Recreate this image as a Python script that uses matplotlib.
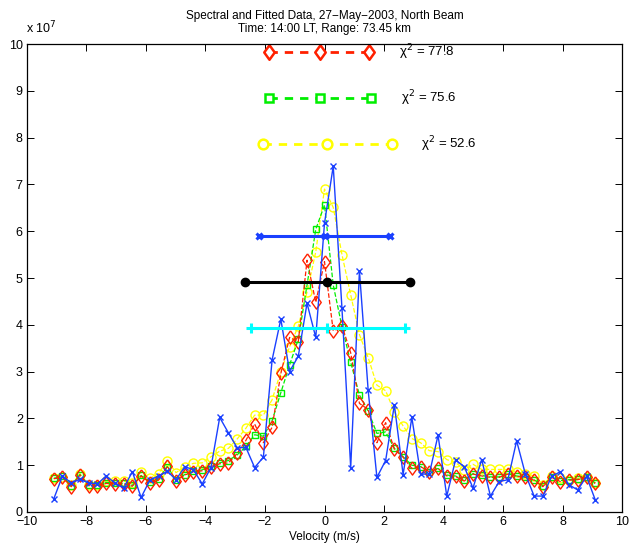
import numpy as np
import matplotlib
matplotlib.use("Agg")
import matplotlib.pyplot as plt

plt.rcParams['font.family'] = ['Liberation Sans', 'DejaVu Sans']

# velocity grid (m/s), 63 bins
velocity = np.linspace(-9.1, 9.1, 63)

# spectral power, units of 1e7
spectrum = [0.28, 0.77, 0.62, 0.70, 0.62, 0.60, 0.77, 0.62, 0.51, 0.86,
            0.31, 0.68, 0.77, 0.87, 0.69, 0.97, 0.90, 0.60, 0.95, 2.02,
            1.69, 1.37, 1.38, 0.95, 1.17, 3.25, 4.12, 3.00, 3.33, 4.46,
            3.73, 6.17, 7.39, 4.35, 0.95, 5.15, 2.60, 0.74, 1.10, 2.29,
            0.80, 2.02, 0.81, 0.81, 1.64, 0.34, 1.11, 0.97, 0.51, 1.12,
            0.34, 0.65, 0.69, 1.52, 0.81, 0.34, 0.34, 0.76, 0.86, 0.58,
            0.47, 0.76, 0.26]

fit_red = [0.71, 0.74, 0.54, 0.79, 0.56, 0.55, 0.61, 0.60, 0.60, 0.55,
           0.77, 0.63, 0.68, 0.98, 0.67, 0.79, 0.86, 0.88, 0.97, 1.03,
           1.05, 1.25, 1.53, 1.88, 1.48, 1.81, 2.96, 3.73, 3.64, 5.38,
           4.48, 5.35, 3.87, 3.98, 3.40, 2.32, 2.19, 1.48, 1.91, 1.34,
           1.17, 0.93, 0.97, 0.86, 0.93, 0.77, 0.76, 0.66, 0.81, 0.77,
           0.74, 0.74, 0.81, 0.76, 0.74, 0.68, 0.54, 0.74, 0.65, 0.68,
           0.69, 0.74, 0.61]

fit_green = [0.72, 0.76, 0.56, 0.80, 0.57, 0.57, 0.63, 0.62, 0.61, 0.57,
             0.78, 0.64, 0.70, 0.97, 0.68, 0.80, 0.87, 0.90, 0.98, 1.05,
             1.10, 1.22, 1.40, 1.65, 1.62, 1.95, 2.55, 3.14, 3.69, 4.85,
             6.04, 6.56, 4.85, 3.96, 3.20, 2.50, 2.16, 1.68, 1.71, 1.36,
             1.18, 1.00, 0.97, 0.86, 0.93, 0.79, 0.77, 0.68, 0.82, 0.78,
             0.75, 0.75, 0.82, 0.77, 0.75, 0.69, 0.56, 0.75, 0.67, 0.69,
             0.70, 0.75, 0.62]

fit_yellow = [0.72, 0.75, 0.57, 0.82, 0.58, 0.58, 0.66, 0.66, 0.66, 0.61,
              0.86, 0.72, 0.82, 1.10, 0.84, 0.97, 1.04, 1.05, 1.18, 1.30,
              1.36, 1.56, 1.79, 2.07, 2.07, 2.40, 3.00, 3.53, 3.97, 4.70,
              5.56, 6.90, 6.51, 5.50, 4.64, 3.79, 3.30, 2.71, 2.59, 2.14,
              1.84, 1.57, 1.48, 1.31, 1.29, 1.12, 1.06, 0.90, 1.02, 0.91,
              0.91, 0.91, 0.91, 0.86, 0.82, 0.77, 0.58, 0.77, 0.72, 0.69,
              0.72, 0.75, 0.62]

# width bars: (left, centre, right, level)
bar_blue = [-2.2, 0.0, 2.2, 5.90]
bar_black = [-2.67, 0.08, 2.87, 4.91]
bar_cyan = [-2.47, 0.10, 2.71, 3.93]

# model key lines: (left, centre, right, level)
key_red = [-1.86, -0.16, 1.50, 9.82]
key_green = [-1.86, -0.16, 1.57, 8.84]
key_yellow = [-2.08, 0.09, 2.26, 7.86]
chi2_labels = ['77.8', '75.6', '52.6']
chi2_x = [2.52, 2.57, 3.24]

RED = '#ff2000'
GREEN = '#00ee00'
YELLOW = '#ffff00'
BLUE = '#1a40ff'

# MATLAB-like (slightly tall) diamond
DIAMOND = [(0, 1), (0.72, 0), (0, -1), (-0.72, 0), (0, 1)]

fig = plt.figure(figsize=(6.29, 5.51), dpi=100)
ax = fig.add_axes([0.0429, 0.0708, 0.946, 0.8493])

ax.plot(velocity, fit_yellow, '--', marker='o', color=YELLOW, mfc='none', ms=6.5, lw=0.9, mew=1.0)
ax.plot(velocity, fit_green, '--', marker='s', color=GREEN, mfc='none', ms=5, lw=0.9, mew=1.0)
ax.plot(velocity, fit_red, '--', marker=DIAMOND, color=RED, mfc='none', ms=9.5, lw=0.9, mew=1.0)
ax.plot(velocity, spectrum, '-x', color=BLUE, ms=5, lw=1.0, mew=1.0)

for b, col, mk, ms, mew in [(bar_blue, BLUE, 'x', 5, 2.2),
                            (bar_black, 'black', 'o', 6, 1.0),
                            (bar_cyan, '#00ffff', '+', 7, 2.2)]:
    ax.plot(b[:3], [b[3]] * 3, '-', marker=mk, color=col, lw=2.2, ms=ms,
            mew=mew, mfc=col)

for k, col, mk, ms, lab, tx in [(key_red, RED, DIAMOND, 10.5, chi2_labels[0], chi2_x[0]),
                                (key_green, GREEN, 's', 6, chi2_labels[1], chi2_x[1]),
                                (key_yellow, YELLOW, 'o', 7, chi2_labels[2], chi2_x[2])]:
    ax.plot(k[:3], [k[3]] * 3, '--', marker=mk, color=col, lw=2.0, ms=ms,
            mew=1.8, mfc='white', dashes=(3, 2.5))
    ax.text(tx, k[3], '\u03c7$^2$ = ' + lab, fontsize=9.5, va='center', ha='left')

ax.set_xlim(-10, 10)
ax.set_ylim(0, 10)
ax.set_xticks(np.arange(-10, 11, 2))
ax.set_yticks(np.arange(0, 11, 1))
ax.set_xticklabels(['\u221210', '\u22128', '\u22126', '\u22124', '\u22122', '0', '2', '4', '6', '8', '10'])
ax.tick_params(direction='in', top=True, right=True, length=5, width=0.7, labelsize=9, pad=3)
for s in ax.spines.values():
    s.set_linewidth(0.9)
ax.set_xlabel('Velocity (m/s)', fontsize=8.5, labelpad=2)
ax.set_title('Spectral and Fitted Data, 27\u2212May\u22122003, North Beam\nTime: 14:00 LT, Range: 73.45 km',
             fontsize=8.5, pad=9, linespacing=1.1)
fig.text(0.042, 0.935, r'x 10$^7$', fontsize=9, ha='left', va='bottom')

fig.savefig('out.png', dpi=100)
